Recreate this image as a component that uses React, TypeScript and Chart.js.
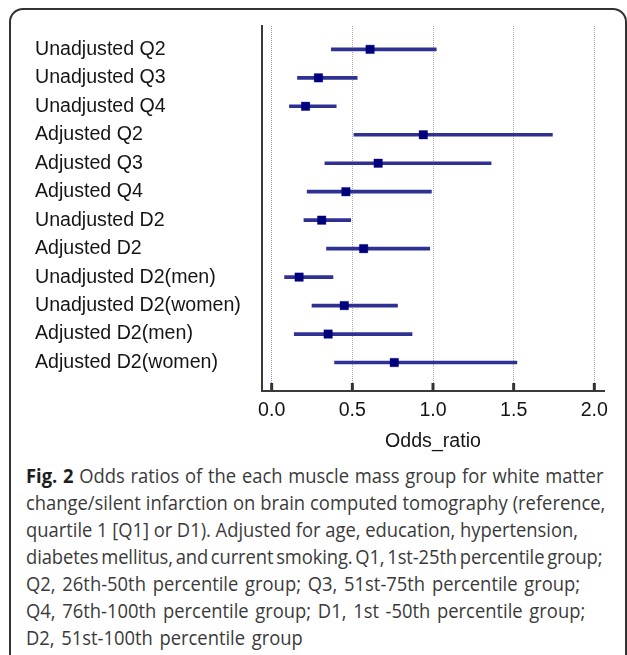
import React, { useEffect, useLayoutEffect, useRef } from 'react';
import { Chart, registerables } from 'chart.js';

Chart.register(...registerables);

const categories = [
  'Unadjusted Q2',
  'Unadjusted Q3',
  'Unadjusted Q4',
  'Adjusted Q2',
  'Adjusted Q3',
  'Adjusted Q4',
  'Unadjusted D2',
  'Adjusted D2',
  'Unadjusted D2(men)',
  'Unadjusted D2(women)',
  'Adjusted D2(men)',
  'Adjusted D2(women)',
];
const oddsRatio = [0.61, 0.29, 0.21, 0.94, 0.66, 0.46, 0.31, 0.57, 0.17, 0.45, 0.35, 0.76];
const ciLower = [0.37, 0.16, 0.11, 0.51, 0.33, 0.22, 0.2, 0.34, 0.08, 0.25, 0.14, 0.39];
const ciUpper = [1.02, 0.53, 0.4, 1.74, 1.36, 0.99, 0.49, 0.98, 0.38, 0.78, 0.87, 1.52];
const xTicks = [0, 0.5, 1, 1.5, 2];
const xTitle = 'Odds_ratio';

const captionBold = 'Fig. 2';
const captionLines = [
  ' Odds ratios of the each muscle mass group for white matter',
  'change/silent infarction on brain computed tomography (reference,',
  'quartile 1 [Q1] or D1). Adjusted for age, education, hypertension,',
  'diabetes mellitus, and current smoking. Q1, 1st-25th percentile group;',
  'Q2, 26th-50th percentile group; Q3, 51st-75th percentile group;',
  'Q4, 76th-100th percentile group; D1, 1st -50th percentile group;',
  'D2, 51st-100th percentile group',
];
// right edge (px) of each caption line as printed
const captionLineEnds = [603, 605, 578, 602, 580, 585, 303];

const FONT = "'Liberation Sans', Arial, Helvetica, sans-serif";
const TEXT = '#151515';
const CAP_LEFT = 26;

const insideTicks = {
  id: 'insideTicks',
  afterDraw(chart: any) {
    const xs = chart.scales.x;
    const { ctx, chartArea } = chart;
    ctx.save();
    ctx.strokeStyle = '#333333';
    ctx.lineWidth = 3;
    xTicks.forEach((v) => {
      const px = xs.getPixelForValue(v);
      ctx.beginPath();
      ctx.moveTo(px, chartArea.bottom);
      ctx.lineTo(px, chartArea.bottom - 8);
      ctx.stroke();
    });
    ctx.restore();
  },
};

export default function App() {
  const canvasRef = useRef<HTMLCanvasElement | null>(null);
  const capRef = useRef<HTMLDivElement | null>(null);
  const lineRefs = useRef<(HTMLSpanElement | null)[]>([]);

  useLayoutEffect(() => {
    const fit = () => {
      const spans = lineRefs.current;
      if (!capRef.current || spans.some((s) => !s)) return;
      spans.forEach((s) => {
        (s as HTMLSpanElement).style.wordSpacing = '0px';
        (s as HTMLSpanElement).style.letterSpacing = '0px';
      });
      const widths = spans.map((s) => (s as HTMLSpanElement).offsetWidth);
      const sc =
        ((captionLineEnds[1] - CAP_LEFT) / widths[1] + (captionLineEnds[2] - CAP_LEFT) / widths[2]) / 2;
      capRef.current.style.transform = `scaleX(${sc})`;
      spans.forEach((s, i) => {
        const full = (i === 0 ? captionBold : '') + captionLines[i];
        const spaces = (full.match(/ /g) || []).length;
        const target = (captionLineEnds[i] - CAP_LEFT) / sc;
        if (spaces > 0 && widths[i] > 0) {
          let ws = (target - widths[i]) / spaces;
          let ls = 0;
          if (ws < -2) {
            const deficit = (target - widths[i]) - -2 * spaces;
            ws = -2;
            ls = deficit / full.length;
          }
          (s as HTMLSpanElement).style.wordSpacing = `${ws}px`;
          (s as HTMLSpanElement).style.letterSpacing = `${ls}px`;
        }
      });
    };
    fit();
    if ((document as any).fonts && (document as any).fonts.ready) {
      (document as any).fonts.ready.then(fit);
    }
  }, []);

  useEffect(() => {
    if (!canvasRef.current) return;
    const chart = new Chart(canvasRef.current, {
      type: 'bar',
      data: {
        datasets: [
          {
            type: 'scatter',
            data: oddsRatio.map((v, i) => ({ x: v, y: i + 1 })),
            pointStyle: 'rect',
            pointRadius: 6,
            pointHoverRadius: 6,
            backgroundColor: '#00007d',
            borderColor: 'rgba(0,0,125,0.35)',
            borderWidth: 1,
            order: 0,
          } as any,
          {
            type: 'bar',
            data: categories.map((_, i) => ({ y: i + 1, x: [ciLower[i], ciUpper[i]] })),
            backgroundColor: '#2e3092',
            borderWidth: 0,
            barThickness: 3,
            order: 1,
          } as any,
        ],
      },
      options: {
        indexAxis: 'y',
        responsive: false,
        animation: false,
        events: [],
        layout: { padding: { left: 35, right: 23, top: 26, bottom: 0 } },
        plugins: { legend: { display: false }, tooltip: { enabled: false } },
        scales: {
          x: {
            type: 'linear',
            position: 'bottom',
            min: -0.06,
            max: 2.06,
            afterBuildTicks: (s: any) => {
              s.ticks = xTicks.map((v) => ({ value: v }));
            },
            afterFit: (s: any) => {
              s.height = 69;
            },
            ticks: {
              callback: (v: any) => Number(v).toFixed(1),
              font: { family: FONT, size: 19.6 },
              color: TEXT,
              padding: 8,
              maxRotation: 0,
              autoSkip: false,
            },
            grid: {
              drawTicks: false,
              lineWidth: 1,
              color: (c: any) => (c.tick && c.tick.value === 0 ? '#8f8fd6' : '#ababab'),
            },
            border: { display: true, color: '#3a3a3a', width: 2, dash: [1, 1] },
            title: {
              display: true,
              text: xTitle,
              font: { family: FONT, size: 19.6 },
              color: TEXT,
              padding: { top: 0, bottom: 7 },
            },
          },
          y: {
            type: 'linear',
            reverse: true,
            min: 0.18,
            max: 13,
            offset: false,
            afterBuildTicks: (s: any) => {
              s.ticks = categories.map((_, i) => ({ value: i + 1 }));
            },
            afterFit: (s: any) => {
              s.width = 227;
            },
            ticks: {
              callback: (v: any) => categories[Math.round(Number(v)) - 1] ?? '',
              font: { family: FONT, size: 19.6 },
              color: TEXT,
              crossAlign: 'far',
              autoSkip: false,
              padding: 0,
            },
            grid: { display: false, drawTicks: false },
            border: { display: true, color: '#3a3a3a', width: 2 },
          },
        },
      } as any,
      plugins: [insideTicks],
    });
    return () => chart.destroy();
  }, []);

  return (
    <div
      style={{
        position: 'fixed',
        left: 0,
        top: 0,
        width: 627,
        height: 655,
        overflow: 'hidden',
        background: '#ffffff',
      }}
    >
      <div
        style={{
          position: 'absolute',
          left: 9,
          top: 8,
          width: 618,
          height: 700,
          boxSizing: 'border-box',
          border: '2px solid #333333',
          borderRadius: 14,
        }}
      />
      <canvas
        ref={canvasRef}
        width={627}
        height={460}
        style={{ position: 'absolute', left: 0, top: 0, width: 627, height: 460 }}
      />
      <div
        ref={capRef}
        style={{
          position: 'absolute',
          left: CAP_LEFT,
          top: 462,
          transformOrigin: '0 0',
          fontFamily: "'Open Sans', 'Noto Sans', sans-serif",
          fontSize: 19.5,
          lineHeight: '27px',
          color: '#3a3a3a',
          whiteSpace: 'nowrap',
        }}
      >
        {captionLines.map((ln, i) => (
          <div key={i}>
            <span
              ref={(el) => {
                lineRefs.current[i] = el;
              }}
              style={{ display: 'inline-block' }}
            >
              {i === 0 ? <b style={{ color: '#1e1e1e' }}>{captionBold}</b> : null}
              {ln}
            </span>
          </div>
        ))}
      </div>
    </div>
  );
}
